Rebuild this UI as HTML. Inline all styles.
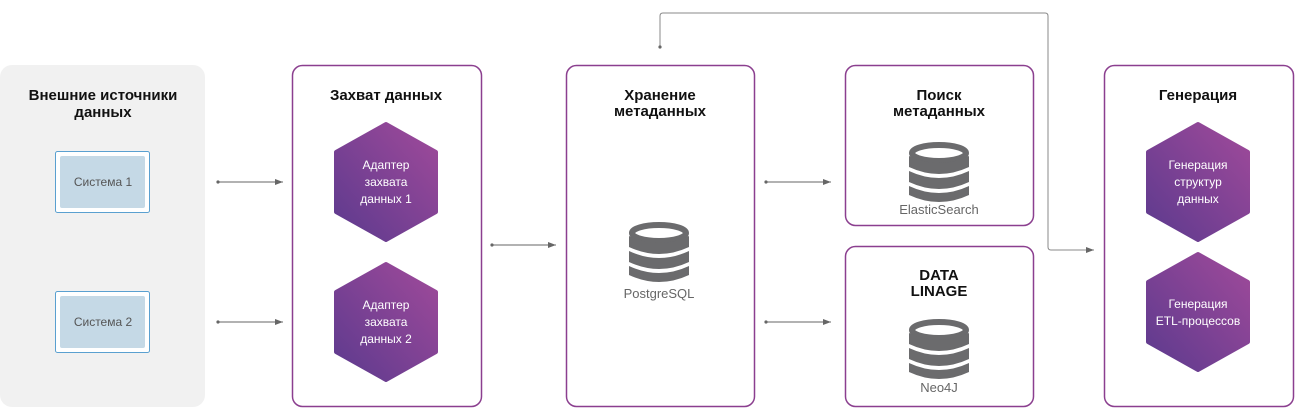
<!DOCTYPE html>
<html><head><meta charset="utf-8"><style>
html,body{margin:0;padding:0;background:#fff;}
svg{display:block;font-family:"Liberation Sans",sans-serif;}
</style></head><body>
<svg width="1300" height="410" viewBox="0 0 1300 410" xmlns="http://www.w3.org/2000/svg">
<defs>
<linearGradient id="g" x1="1" y1="0" x2="0" y2="1">
<stop offset="0" stop-color="#a04a9a"/><stop offset="1" stop-color="#5c3a8e"/>
</linearGradient>
<marker id="ar" markerWidth="8" markerHeight="6" refX="8" refY="3" orient="auto" markerUnits="userSpaceOnUse"><path d="M0,0 L8,3 L0,6z" fill="#666"/></marker>
<g id="db">
<ellipse cx="0" cy="0" rx="27" ry="8" fill="none" stroke="#6b6b6d" stroke-width="6"/>
<path d="M-30,3 Q0,17 30,3 L30,14 Q0,28 -30,14Z" fill="#6b6b6d"/>
<path d="M-30,18 Q0,32 30,18 L30,29 Q0,43 -30,29Z" fill="#6b6b6d"/>
<path d="M-30,33 Q0,47 30,33 L30,42 Q0,56 -30,42Z" fill="#6b6b6d"/>
</g>
</defs>
<!-- boxes -->
<rect x="0" y="65" width="205" height="342" rx="12" fill="#f1f1f1"/>
<rect x="292.5" y="65.5" width="189" height="341" rx="10" fill="#fff" stroke="#8b3f8f" stroke-width="1.5"/>
<rect x="566.5" y="65.5" width="188" height="341" rx="10" fill="#fff" stroke="#8b3f8f" stroke-width="1.5"/>
<rect x="845.5" y="65.5" width="188" height="160" rx="10" fill="#fff" stroke="#8b3f8f" stroke-width="1.5"/>
<rect x="845.5" y="246.5" width="188" height="160" rx="10" fill="#fff" stroke="#8b3f8f" stroke-width="1.5"/>
<rect x="1104.5" y="65.5" width="189" height="341" rx="10" fill="#fff" stroke="#8b3f8f" stroke-width="1.5"/>
<!-- titles -->
<g font-weight="bold" font-size="15" fill="#111" text-anchor="middle">
<text x="103" y="100">Внешние источники</text><text x="103" y="117">данных</text>
<text x="386" y="100">Захват данных</text>
<text x="660" y="100">Хранение</text><text x="660" y="116">метаданных</text>
<text x="939" y="100">Поиск</text><text x="939" y="116">метаданных</text>
<text x="939" y="280">DATA</text><text x="939" y="296">LINAGE</text>
<text x="1198" y="100">Генерация</text>
</g>
<!-- systems -->
<rect x="55.5" y="151.5" width="94" height="61" rx="2" fill="#fff" stroke="#5aa0d0"/>
<rect x="60" y="156" width="85" height="52" rx="2" fill="#c5d9e6"/>
<rect x="55.5" y="291.5" width="94" height="61" rx="2" fill="#fff" stroke="#5aa0d0"/>
<rect x="60" y="296" width="85" height="52" rx="2" fill="#c5d9e6"/>
<g font-size="12" fill="#555" text-anchor="middle">
<text x="103" y="186">Система 1</text><text x="103" y="326">Система 2</text>
</g>
<!-- hexes -->
<g fill="url(#g)" stroke="url(#g)" stroke-width="4" stroke-linejoin="round">
<polygon points="386,124 436,152 436,212 386,240 336,212 336,152"/>
<polygon points="386,264 436,292 436,352 386,380 336,352 336,292"/>
<polygon points="1198,124 1248,152 1248,212 1198,240 1148,212 1148,152"/>
<polygon points="1198,254 1248,282 1248,342 1198,370 1148,342 1148,282"/>
</g>
<g font-size="12" fill="#fff" text-anchor="middle">
<text x="386" y="169">Адаптер</text><text x="386" y="186">захвата</text><text x="386" y="203">данных 1</text>
<text x="386" y="309">Адаптер</text><text x="386" y="326">захвата</text><text x="386" y="343">данных 2</text>
<text x="1198" y="169">Генерация</text><text x="1198" y="186">структур</text><text x="1198" y="203">данных</text>
<text x="1198" y="308">Генерация</text><text x="1198" y="325">ETL-процессов</text>
</g>
<!-- dbs -->
<use href="#db" x="659" y="233"/>
<use href="#db" x="939" y="153"/>
<use href="#db" x="939" y="330"/>
<g font-size="13" fill="#666" text-anchor="middle">
<text x="659" y="298">PostgreSQL</text>
<text x="939" y="214">ElasticSearch</text>
<text x="939" y="392">Neo4J</text>
</g>
<!-- arrows -->
<g stroke="#666" stroke-width="1" fill="none">
<line x1="218" y1="182" x2="283" y2="182" marker-end="url(#ar)"/>
<line x1="218" y1="322" x2="283" y2="322" marker-end="url(#ar)"/>
<line x1="492" y1="245" x2="556" y2="245" marker-end="url(#ar)"/>
<line x1="766" y1="182" x2="831" y2="182" marker-end="url(#ar)"/>
<line x1="766" y1="322" x2="831" y2="322" marker-end="url(#ar)"/>
<path d="M660,47 V16 Q660,13 663,13 H1045 Q1048,13 1048,16 V247 Q1048,250 1051,250 H1094" marker-end="url(#ar)" stroke="#888"/>
</g>
<g fill="#666">
<circle cx="218" cy="182" r="1.6"/><circle cx="218" cy="322" r="1.6"/><circle cx="492" cy="245" r="1.6"/>
<circle cx="766" cy="182" r="1.6"/><circle cx="766" cy="322" r="1.6"/><circle cx="660" cy="47" r="1.6"/>
</g>
</svg>
</body></html>
